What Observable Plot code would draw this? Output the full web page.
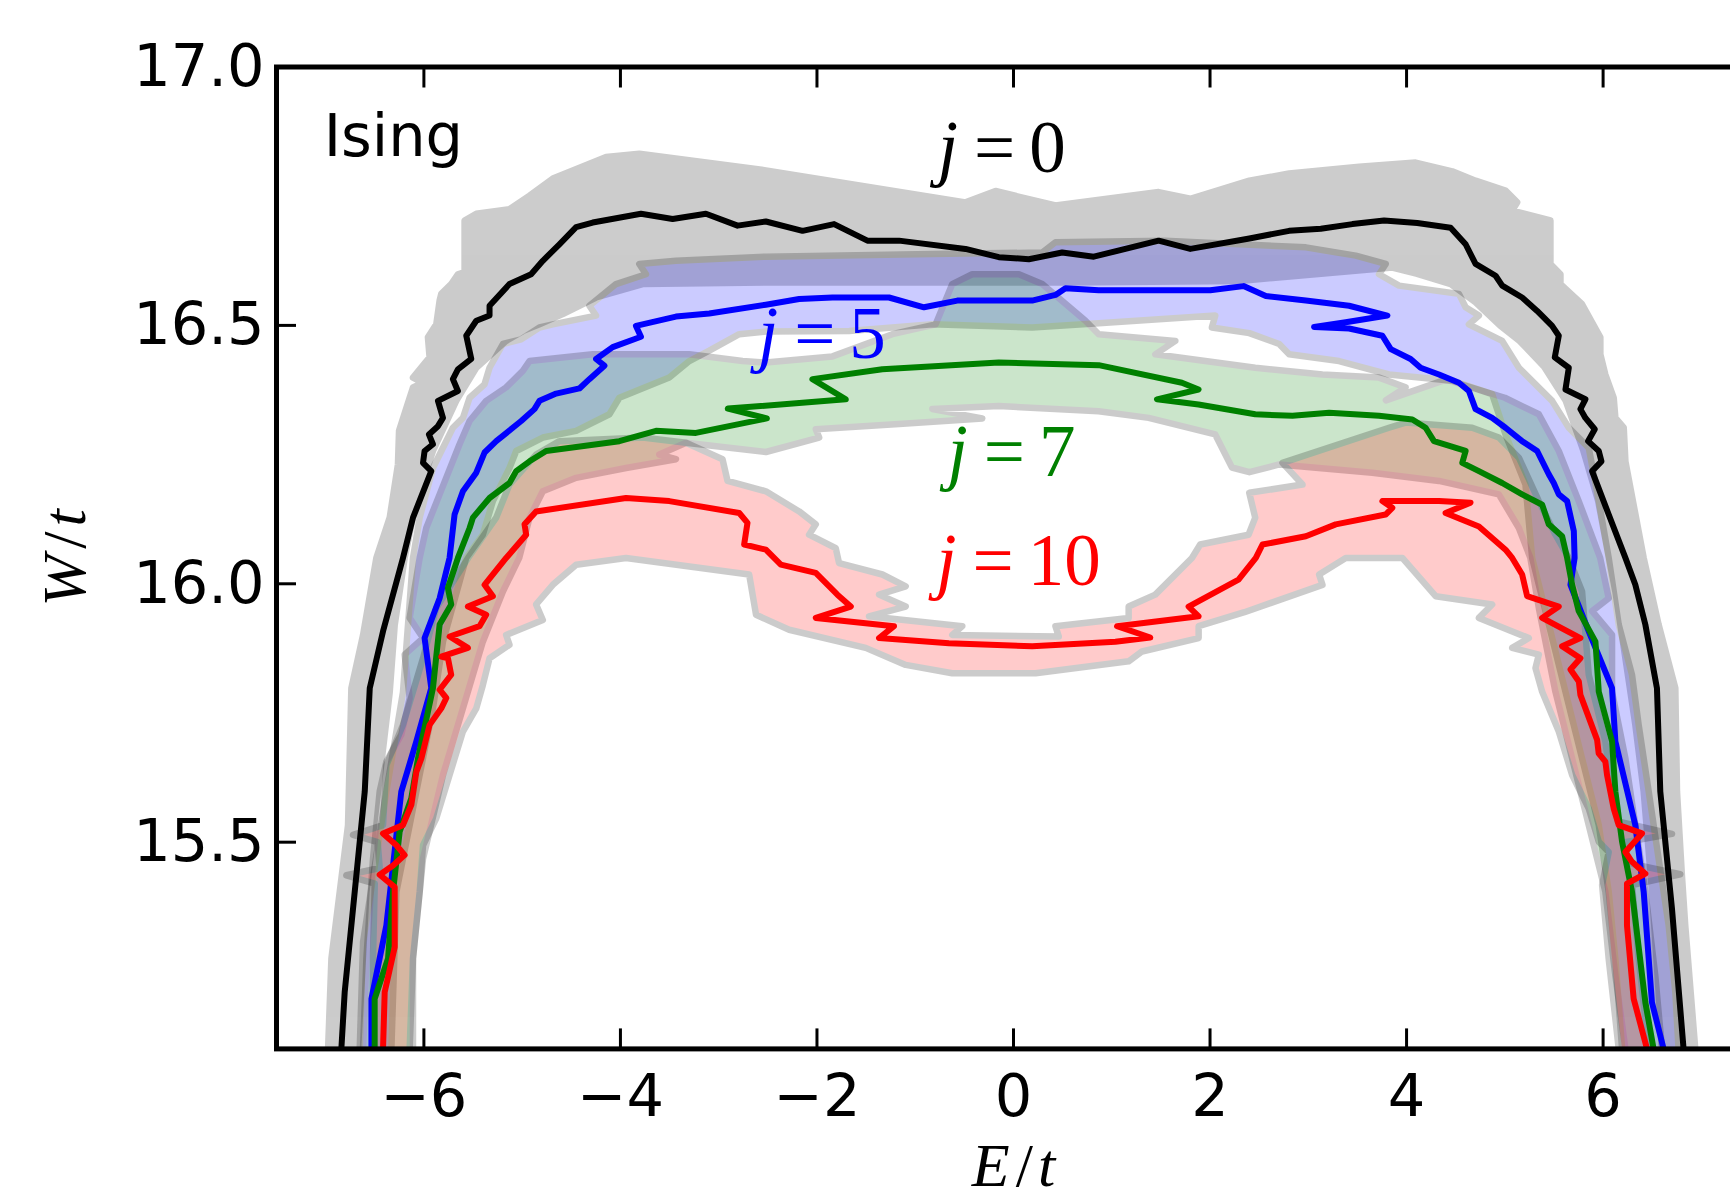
<!DOCTYPE html>
<html><head><meta charset="utf-8">
<script src="https://cdn.jsdelivr.net/npm/d3@7"></script>
<script src="https://cdn.jsdelivr.net/npm/@observablehq/plot@0.6"></script>
<style>
html,body{margin:0;padding:0;background:#fff;overflow:hidden;}
</style></head><body><div id="chart"></div>
<script>
// ---------- axes / labels ----------
const xTicks = [-6, -4, -2, 0, 2, 4, 6];
const yTicks = [15.5, 16.0, 16.5, 17.0];
const xDomain = [-7.5, 7.5];
const yDomain = [15.1, 17.0];
const xTitle = "E/t";
const yTitle = "W/t";
const panelLabel = "Ising";
const panelLabelPos = [-7.02, 16.827];

// ---------- series ----------
const seriesNames = ["j=0", "j=5", "j=7", "j=10"];
const seriesColors = ["#000000", "#0000ff", "#008000", "#ff0000"];
const labelE = [-0.12, -1.95, -0.02, 0.05];
const labelW = [16.796, 16.437, 16.208, 15.997];

// center lines [E, W]
const j0Line = [[-6.86,15.06],[-6.84,15.10],[-6.806,15.21],[-6.602,15.598],[-6.551,15.798],[-6.416,15.908],[-6.213,16.05],[-6.111,16.128],[-5.925,16.218],[-6.009,16.234],[-5.993,16.257],[-5.908,16.27],[-5.949,16.289],[-5.857,16.305],[-5.806,16.321],[-5.857,16.354],[-5.654,16.373],[-5.705,16.396],[-5.654,16.415],[-5.518,16.435],[-5.569,16.48],[-5.467,16.509],[-5.332,16.519],[-5.332,16.538],[-5.129,16.58],[-4.909,16.599],[-4.79,16.625],[-4.621,16.657],[-4.451,16.69],[-4.282,16.699],[-3.791,16.716],[-3.469,16.706],[-3.13,16.716],[-2.808,16.693],[-2.52,16.701],[-2.147,16.683],[-1.826,16.696],[-1.487,16.664],[-1.165,16.664],[-0.488,16.648],[-0.149,16.632],[0.156,16.628],[0.495,16.641],[0.817,16.633],[1.477,16.664],[1.799,16.648],[2.4,16.668],[2.805,16.683],[3.127,16.687],[3.449,16.696],[3.771,16.703],[4.109,16.698],[4.448,16.689],[4.601,16.657],[4.702,16.619],[4.906,16.596],[4.973,16.577],[5.176,16.554],[5.329,16.528],[5.481,16.499],[5.549,16.48],[5.508,16.438],[5.651,16.418],[5.617,16.376],[5.82,16.357],[5.769,16.338],[5.82,16.321],[5.915,16.299],[5.847,16.276],[5.956,16.257],[5.983,16.237],[5.888,16.218],[6.057,16.134],[6.227,16.05],[6.328,15.998],[6.43,15.921],[6.548,15.798],[6.582,15.598],[6.701,15.371],[6.819,15.10],[6.83,15.06]];

const j5Line = [[-6.54,15.06],[-6.534,15.10],[-6.534,15.197],[-6.382,15.339],[-6.23,15.598],[-6.077,15.695],[-5.925,15.798],[-5.993,15.895],[-5.84,15.972],[-5.739,16.05],[-5.688,16.134],[-5.603,16.179],[-5.467,16.215],[-5.383,16.254],[-5.264,16.276],[-5.01,16.315],[-4.875,16.338],[-4.824,16.354],[-4.654,16.368],[-4.417,16.378],[-4.316,16.396],[-4.163,16.422],[-4.248,16.435],[-4.079,16.458],[-3.791,16.478],[-3.842,16.499],[-3.435,16.517],[-3.096,16.523],[-2.52,16.54],[-2.181,16.551],[-1.842,16.554],[-1.267,16.554],[-0.911,16.535],[-0.572,16.548],[0.19,16.548],[0.427,16.559],[0.529,16.572],[0.867,16.568],[2.002,16.568],[2.341,16.576],[2.568,16.557],[2.975,16.548],[3.415,16.538],[3.805,16.519],[3.381,16.506],[3.059,16.497],[3.415,16.494],[3.754,16.48],[3.839,16.454],[4.041,16.435],[4.143,16.418],[4.33,16.405],[4.533,16.389],[4.634,16.373],[4.702,16.338],[4.871,16.321],[5.007,16.302],[5.176,16.276],[5.329,16.257],[5.447,16.212],[5.498,16.195],[5.549,16.173],[5.634,16.16],[5.702,16.102],[5.71,16.05],[5.668,15.998],[5.854,15.908],[6.091,15.798],[6.125,15.695],[6.328,15.533],[6.413,15.404],[6.497,15.19],[6.616,15.10],[6.63,15.06]];

const j7Line = [[-6.50,15.06],[-6.501,15.10],[-6.501,15.197],[-6.365,15.275],[-6.314,15.404],[-6.247,15.52],[-6.128,15.585],[-6.06,15.662],[-5.908,15.798],[-5.84,15.921],[-5.722,15.96],[-5.756,15.992],[-5.654,16.05],[-5.535,16.108],[-5.501,16.128],[-5.332,16.166],[-5.129,16.195],[-5.061,16.218],[-4.925,16.237],[-4.756,16.257],[-4.011,16.276],[-3.638,16.296],[-3.232,16.292],[-2.51,16.32],[-2.907,16.339],[-1.707,16.357],[-2.046,16.396],[-1.335,16.415],[-0.15,16.428],[0.867,16.423],[1.714,16.389],[1.883,16.376],[1.46,16.357],[1.883,16.347],[2.46,16.328],[2.839,16.325],[3.212,16.331],[3.72,16.325],[4.059,16.318],[4.194,16.302],[4.279,16.276],[4.601,16.257],[4.567,16.234],[4.736,16.218],[4.973,16.195],[5.176,16.173],[5.38,16.153],[5.447,16.115],[5.583,16.092],[5.634,16.05],[5.685,15.998],[5.752,15.947],[5.922,15.888],[5.956,15.791],[6.091,15.695],[6.125,15.598],[6.193,15.501],[6.294,15.404],[6.43,15.19],[6.514,15.10],[6.53,15.06]];

const j10Line = [[-6.42,15.06],[-6.416,15.10],[-6.399,15.21],[-6.297,15.297],[-6.297,15.413],[-6.45,15.437],[-6.314,15.455],[-6.196,15.475],[-6.28,15.494],[-6.416,15.517],[-6.213,15.533],[-6.128,15.572],[-6.077,15.636],[-6.026,15.662],[-5.942,15.727],[-5.823,15.759],[-5.772,15.779],[-5.84,15.795],[-5.722,15.824],[-5.755,15.856],[-5.823,15.859],[-5.552,15.876],[-5.738,15.898],[-5.434,15.918],[-5.366,15.94],[-5.552,15.956],[-5.298,15.976],[-5.383,15.998],[-5.163,16.05],[-4.959,16.095],[-4.976,16.115],[-4.858,16.14],[-3.943,16.166],[-3.503,16.16],[-2.791,16.137],[-2.707,16.118],[-2.741,16.076],[-2.52,16.066],[-2.368,16.037],[-2.012,16.021],[-1.792,15.979],[-1.656,15.956],[-2.012,15.934],[-1.216,15.918],[-1.368,15.895],[-0.657,15.885],[0.19,15.879],[1.037,15.888],[1.392,15.896],[1.054,15.918],[1.884,15.937],[1.782,15.956],[2.29,16.008],[2.466,16.05],[2.534,16.076],[2.975,16.092],[3.279,16.115],[3.787,16.134],[3.855,16.147],[3.754,16.16],[4.33,16.16],[4.651,16.157],[4.397,16.137],[4.736,16.111],[5.007,16.066],[5.075,16.05],[5.176,16.018],[5.227,15.976],[5.549,15.956],[5.38,15.934],[5.769,15.895],[5.583,15.879],[5.769,15.856],[5.668,15.834],[5.753,15.811],[5.769,15.785],[5.939,15.698],[5.955,15.672],[6.023,15.656],[6.04,15.63],[6.108,15.565],[6.159,15.533],[6.396,15.517],[6.227,15.481],[6.294,15.462],[6.43,15.439],[6.243,15.42],[6.243,15.339],[6.311,15.197],[6.447,15.10],[6.455,15.06]];

// uncertainty bands: outer edge (bottom-left -> bottom-right), inner edge (bottom-right -> bottom-left)
const j0Outer = [[-6.99,15.06],[-6.975,15.10],[-6.941,15.275],[-6.772,15.533],[-6.738,15.798],[-6.619,15.901],[-6.484,16.05],[-6.348,16.128],[-6.264,16.231],[-6.253,16.296],[-6.145,16.36],[-6.111,16.38],[-6.009,16.389],[-6.111,16.399],[-5.942,16.438],[-5.959,16.477],[-5.874,16.502],[-5.84,16.548],[-5.823,16.561],[-5.722,16.58],[-5.654,16.599],[-5.586,16.603],[-5.586,16.703],[-5.467,16.716],[-5.129,16.725],[-4.925,16.751],[-4.688,16.784],[-4.146,16.826],[-3.808,16.832],[-2.52,16.80],[-0.488,16.738],[-0.183,16.76],[0.427,16.732],[1.477,16.758],[1.799,16.745],[2.4,16.78],[2.805,16.794],[3.517,16.807],[4.092,16.815],[4.465,16.798],[4.702,16.78],[5.007,16.761],[5.126,16.738],[5.075,16.722],[5.464,16.703],[5.464,16.619],[5.566,16.599],[5.566,16.58],[5.786,16.541],[5.972,16.477],[5.972,16.444],[6.023,16.405],[6.108,16.36],[6.125,16.321],[6.21,16.302],[6.227,16.237],[6.413,16.05],[6.565,15.921],[6.735,15.798],[6.752,15.598],[6.802,15.436],[6.836,15.339],[6.938,15.10],[6.95,15.06]];
const j0Inner = [[6.61,15.06],[6.599,15.10],[6.565,15.21],[6.498,15.404],[6.413,15.598],[6.328,15.727],[6.227,15.856],[6.125,15.985],[6.06,16.05],[5.95,16.16],[5.80,16.257],[5.62,16.354],[5.40,16.42],[5.15,16.47],[4.95,16.50],[4.70,16.545],[4.45,16.58],[4.10,16.60],[3.855,16.612],[2.297,16.586],[0.5,16.583],[-2.52,16.583],[-3.774,16.58],[-4.248,16.554],[-4.587,16.522],[-4.824,16.502],[-4.993,16.489],[-5.163,16.47],[-5.467,16.418],[-5.671,16.354],[-5.908,16.257],[-6.077,16.16],[-6.196,16.05],[-6.297,15.92],[-6.348,15.79],[-6.467,15.598],[-6.585,15.404],[-6.67,15.10],[-6.68,15.06]];

const j5Outer = [[-6.66,15.06],[-6.653,15.10],[-6.619,15.307],[-6.382,15.598],[-6.213,15.79],[-6.162,15.92],[-6.111,16.05],[-6.043,16.128],[-5.908,16.224],[-5.705,16.302],[-5.603,16.321],[-5.535,16.36],[-5.383,16.386],[-5.332,16.418],[-5.196,16.464],[-5.01,16.473],[-4.824,16.496],[-4.688,16.502],[-4.248,16.519],[-4.316,16.538],[-4.045,16.58],[-3.74,16.599],[-3.808,16.619],[-3.435,16.625],[-2.52,16.633],[-0.826,16.638],[0.292,16.641],[0.427,16.661],[1.545,16.664],[2.297,16.657],[2.975,16.651],[3.483,16.635],[3.788,16.619],[3.72,16.599],[3.923,16.577],[4.533,16.561],[4.601,16.535],[4.736,16.519],[4.634,16.502],[4.973,16.47],[5.143,16.418],[5.481,16.354],[5.651,16.302],[5.854,16.263],[5.956,16.16],[6.057,16.05],[6.159,15.921],[6.294,15.824],[6.362,15.727],[6.464,15.598],[6.565,15.468],[6.667,15.339],[6.735,15.21],[6.768,15.10],[6.78,15.06]];
const j5Inner = [[6.20,15.06],[6.193,15.10],[6.125,15.274],[6.057,15.404],[5.956,15.533],[5.786,15.662],[5.617,15.791],[5.448,15.921],[5.278,16.05],[5.21,16.192],[5.007,16.289],[4.871,16.367],[4.465,16.393],[3.821,16.405],[3.313,16.431],[2.805,16.444],[2.704,16.464],[2.4,16.485],[2.019,16.496],[2.053,16.519],[0.867,16.504],[0.19,16.496],[-0.826,16.502],[-1.673,16.489],[-2.52,16.488],[-2.791,16.483],[-3.096,16.451],[-3.299,16.431],[-3.503,16.399],[-4.011,16.36],[-4.112,16.328],[-4.451,16.296],[-4.79,16.283],[-5.061,16.257],[-5.129,16.224],[-5.298,16.16],[-5.40,16.095],[-5.57,16.05],[-5.806,15.888],[-5.908,15.759],[-6.077,15.598],[-6.28,15.404],[-6.331,15.10],[-6.34,15.06]];

const j7Outer = [[-6.63,15.06],[-6.619,15.10],[-6.585,15.275],[-6.518,15.468],[-6.45,15.598],[-6.382,15.656],[-6.23,15.708],[-6.145,15.779],[-6.196,15.863],[-6.009,15.895],[-6.145,15.934],[-6.043,16.05],[-5.976,16.108],[-5.84,16.173],[-5.637,16.27],[-5.535,16.315],[-5.366,16.354],[-5.163,16.38],[-4.993,16.412],[-4.925,16.431],[-4.282,16.444],[-3.30,16.444],[-2.757,16.431],[-2.52,16.428],[-1.842,16.44],[-1.233,16.483],[-0.792,16.502],[-0.623,16.58],[-0.42,16.599],[0.055,16.599],[0.292,16.58],[0.732,16.509],[0.867,16.483],[1.647,16.47],[1.443,16.444],[2.46,16.418],[3.144,16.405],[3.72,16.399],[3.99,16.38],[3.79,16.355],[4.4,16.395],[5.0,16.36],[5.346,16.328],[5.549,16.257],[5.752,16.16],[5.97,16.05],[6.057,15.972],[5.888,15.947],[6.091,15.901],[6.091,15.791],[6.227,15.662],[6.328,15.533],[6.43,15.404],[6.531,15.242],[6.599,15.10],[6.61,15.06]];
const j7Inner = [[6.24,15.06],[6.227,15.10],[6.125,15.242],[6.023,15.404],[5.854,15.533],[5.685,15.662],[5.515,15.791],[5.346,15.953],[5.26,16.05],[5.143,16.108],[4.939,16.173],[4.33,16.199],[3.652,16.215],[2.704,16.231],[2.4,16.216],[2.223,16.225],[2.053,16.289],[1.376,16.321],[0.867,16.334],[-0.149,16.344],[-0.826,16.338],[-0.318,16.32],[-1.165,16.309],[-2.012,16.299],[-1.978,16.283],[-2.52,16.255],[-3.333,16.273],[-3.604,16.25],[-3.435,16.241],[-3.943,16.224],[-4.451,16.205],[-4.79,16.179],[-4.925,16.128],[-5.03,16.05],[-5.196,15.985],[-5.40,15.888],[-5.603,15.759],[-5.806,15.63],[-6.009,15.468],[-6.111,15.275],[-6.111,15.10],[-6.12,15.06]];

const j10Outer = [[-6.52,15.06],[-6.518,15.10],[-6.518,15.275],[-6.50,15.42],[-6.789,15.436],[-6.45,15.45],[-6.47,15.50],[-6.721,15.514],[-6.416,15.533],[-6.382,15.649],[-6.213,15.727],[-6.009,15.856],[-5.874,15.953],[-5.55,16.05],[-5.264,16.128],[-5.129,16.192],[-4.858,16.25],[-4.621,16.276],[-3.774,16.283],[-3.333,16.273],[-2.961,16.241],[-2.91,16.199],[-2.52,16.179],[-2.181,16.14],[-2.012,16.115],[-2.08,16.095],[-1.809,16.069],[-1.775,16.04],[-1.334,16.018],[-1.097,15.995],[-1.368,15.979],[-1.097,15.956],[-1.47,15.937],[-0.521,15.918],[-0.623,15.901],[0.461,15.898],[0.427,15.918],[1.172,15.934],[1.172,15.956],[1.443,15.979],[1.816,16.05],[1.90,16.076],[2.392,16.095],[2.46,16.128],[2.399,16.176],[2.941,16.192],[2.737,16.234],[3.821,16.302],[3.991,16.312],[4.668,16.302],[4.939,16.283],[5.143,16.244],[5.346,16.16],[5.515,16.095],[5.65,16.05],[5.786,15.985],[5.854,15.824],[6.023,15.695],[6.091,15.598],[6.15,15.54],[6.701,15.516],[6.22,15.50],[6.25,15.46],[6.785,15.438],[6.294,15.417],[6.362,15.274],[6.464,15.10],[6.47,15.06]];
const j10Inner = [[6.17,15.06],[6.159,15.10],[6.057,15.274],[5.99,15.417],[6.057,15.481],[5.956,15.501],[5.854,15.565],[5.685,15.63],[5.549,15.714],[5.38,15.791],[5.312,15.837],[5.346,15.863],[5.075,15.876],[5.244,15.895],[4.736,15.934],[4.871,15.96],[4.296,15.976],[3.957,16.05],[3.381,16.05],[3.11,16.018],[3.144,15.998],[2.35,15.945],[1.884,15.918],[1.884,15.895],[1.308,15.869],[1.172,15.85],[0.224,15.827],[-0.623,15.827],[-1.097,15.843],[-1.504,15.876],[-2.283,15.911],[-2.62,15.94],[-2.69,16.018],[-3.943,16.05],[-4.451,16.037],[-4.688,15.998],[-4.858,15.96],[-4.79,15.93],[-5.163,15.901],[-5.129,15.882],[-5.332,15.856],[-5.40,15.804],[-5.467,15.759],[-5.603,15.714],[-5.739,15.63],[-5.874,15.546],[-6.009,15.494],[-6.043,15.404],[-6.111,15.275],[-6.145,15.10],[-6.15,15.06]];

// ---------- build ----------
const lines = [j0Line, j5Line, j7Line, j10Line];
const bands = [[j0Outer, j0Inner], [j5Outer, j5Inner], [j7Outer, j7Inner], [j10Outer, j10Inner]];
const xy = {x: d => d[0], y: d => d[1]};
const tickFont = {fontSize: 59, fontFamily: "DejaVu Sans"};

const marks = [];
bands.forEach(([outer, inner], i) => {
  const poly = outer.concat(inner, [outer[0]]);
  marks.push(Plot.line(poly, {...xy, fill: seriesColors[i], stroke: "#000", strokeWidth: 6.5,
    opacity: 0.2, curve: "linear", strokeLinejoin: "round", clip: true}));
});
lines.forEach((l, i) => {
  marks.push(Plot.line(l, {...xy, stroke: seriesColors[i], strokeWidth: 6, curve: "linear", clip: true}));
});
seriesNames.forEach((s, i) => {
  marks.push(Plot.text([s], {x: () => labelE[i], y: () => labelW[i], text: d => d,
    fill: seriesColors[i], fontSize: 73, fontFamily: "Liberation Serif",
    textAnchor: "middle", lineAnchor: "bottom", ariaDescription: "series-label"}));
});
marks.push(Plot.text([panelLabel], {x: () => panelLabelPos[0], y: () => panelLabelPos[1], text: d => d,
  textAnchor: "start", lineAnchor: "bottom", fill: "#000", ...tickFont}));
marks.push(Plot.text([xTitle], {frameAnchor: "bottom", dy: 137, lineAnchor: "bottom", textAnchor: "middle",
  fontSize: 62, fontFamily: "Liberation Serif", fill: "#000", ariaDescription: "axis-title"}));
marks.push(Plot.text([yTitle], {frameAnchor: "left", dx: -192, rotate: -90, lineAnchor: "bottom", textAnchor: "middle",
  fontSize: 62, fontFamily: "Liberation Serif", fill: "#000", ariaDescription: "axis-title"}));

marks.push(Plot.axisX({anchor: "bottom", ticks: xTicks, tickSize: -20, tickPadding: 45, strokeWidth: 3, label: null, ...tickFont}));
marks.push(Plot.axisX({anchor: "top", ticks: xTicks, tickSize: -20, tickFormat: () => "", strokeWidth: 3, label: null}));
marks.push(Plot.axisY({anchor: "left", ticks: yTicks, tickSize: -20, tickPadding: 32, tickFormat: d3.format(".1f"), strokeWidth: 3, label: null, ...tickFont}));
marks.push(Plot.axisY({anchor: "right", ticks: yTicks, tickSize: -20, tickFormat: () => "", strokeWidth: 3, label: null}));
marks.push(Plot.frame({stroke: "#000", strokeWidth: 5}));

const plot = Plot.plot({
  width: 1760, height: 1196,
  marginLeft: 276, marginRight: 10, marginTop: 66.5, marginBottom: 147.6,
  x: {domain: xDomain},
  y: {domain: yDomain},
  style: {maxWidth: "none", background: "#fff", color: "#000", overflow: "visible"},
  marks
});
document.getElementById("chart").append(plot);

// rich text: math-style italics
function richify(t, parts) {
  const sel = d3.select(t);
  sel.text(null);
  parts.forEach(([txt, italic, dx]) => {
    const ts = sel.append("tspan").text(txt);
    if (italic) ts.attr("font-style", "italic");
    if (dx) ts.attr("dx", dx);
  });
}
plot.querySelectorAll('g[aria-description="series-label"] text').forEach(t => {
  const [a, b] = t.textContent.split("=");
  richify(t, [[a, true, 0], ["=", false, 16], [b, false, 14]]);
});
plot.querySelectorAll('g[aria-description="axis-title"] text').forEach(t => {
  const [a, b] = t.textContent.split("/");
  richify(t, [[a, true, 0], ["/", false, 6], [b, true, 5]]);
});
</script>
</body></html>
